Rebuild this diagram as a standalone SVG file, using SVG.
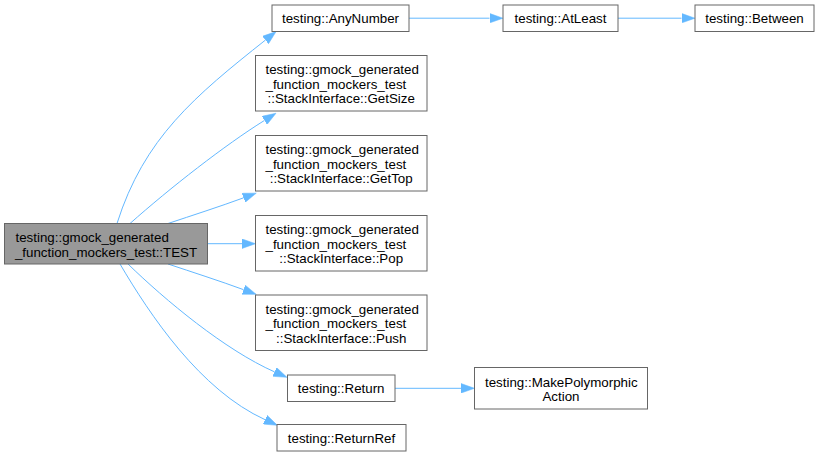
<svg xmlns="http://www.w3.org/2000/svg" width="820" height="456" viewBox="0 0 820 456">
<defs>
<style>
.node rect{fill:#ffffff;stroke:#666666;stroke-width:1}
.node.root rect{fill:#999999}
.node text{font-family:"Liberation Sans",Arial,Helvetica,sans-serif;font-size:13.33px;fill:#000000}
.c{text-anchor:middle}
.l{text-anchor:start}
.edges path{fill:none;stroke:#63b8ff;stroke-width:1}
</style>
<marker id="arr" markerUnits="userSpaceOnUse" markerWidth="14" markerHeight="10" refX="0" refY="4.8" orient="auto" viewBox="0 0 14 9.6">
<path d="M0,0 L13.5,4.8 L0,9.6 z" fill="#63b8ff" stroke="#63b8ff" stroke-width="0.5"/>
</marker>
</defs>
<rect width="820" height="456" fill="#ffffff"/>
<g class="edges">
<path d="M409,18.2 L489.5,18.2" marker-end="url(#arr)"/>
<path d="M618,18.2 L681.5,18.2" marker-end="url(#arr)"/>
<path d="M395,388.3 L461,388.3" marker-end="url(#arr)"/>
<path d="M208,243.7 L242,243.7" marker-end="url(#arr)"/>
<path d="M117,223.5 C144,138 195,96 265.5,40" marker-end="url(#arr)"/>
<path d="M130,223.5 C170,188 225,145 264.5,120.4" marker-end="url(#arr)"/>
<path d="M168,223.5 C192,215.5 220,206.5 243.6,197.8" marker-end="url(#arr)"/>
<path d="M168,264 C192,272 220,281 243.6,289.7" marker-end="url(#arr)"/>
<path d="M128,264 C165,300 225,350 274.6,371.9" marker-end="url(#arr)"/>
<path d="M120,264 C150,315 200,390 265.1,419.7" marker-end="url(#arr)"/>
</g>
<g id="node-test" class="node root">
<rect x="4.5" y="223.5" width="203" height="40.5"/>
<text class="l" x="15.5" y="242.3">testing::gmock_generated</text>
<text class="c" x="106" y="256.8">_function_mockers_test::TEST</text>
</g>
<g id="node-anynumber" class="node">
<rect x="272" y="5" width="137" height="26.5"/>
<text class="c" x="340.5" y="23.2">testing::AnyNumber</text>
</g>
<g id="node-atleast" class="node">
<rect x="503" y="5" width="115" height="26.5"/>
<text class="c" x="560.5" y="23.2">testing::AtLeast</text>
</g>
<g id="node-between" class="node">
<rect x="695" y="5" width="119" height="26.5"/>
<text class="c" x="754.5" y="23.2">testing::Between</text>
</g>
<g id="node-getsize" class="node">
<rect x="255.5" y="55.5" width="171.5" height="55.5"/>
<text class="l" x="265.5" y="74">testing::gmock_generated</text>
<text class="l" x="265.5" y="88.7">_function_mockers_test</text>
<text class="c" x="341.2" y="103.4">::StackInterface::GetSize</text>
</g>
<g id="node-gettop" class="node">
<rect x="255.5" y="135.5" width="171.5" height="55.5"/>
<text class="l" x="265.5" y="154">testing::gmock_generated</text>
<text class="l" x="265.5" y="168.7">_function_mockers_test</text>
<text class="c" x="341.2" y="183.4">::StackInterface::GetTop</text>
</g>
<g id="node-pop" class="node">
<rect x="255.5" y="215.5" width="171.5" height="55.5"/>
<text class="l" x="265.5" y="234">testing::gmock_generated</text>
<text class="l" x="265.5" y="248.7">_function_mockers_test</text>
<text class="c" x="341.2" y="263.4">::StackInterface::Pop</text>
</g>
<g id="node-push" class="node">
<rect x="255.5" y="295" width="171.5" height="55.5"/>
<text class="l" x="265.5" y="313.5">testing::gmock_generated</text>
<text class="l" x="265.5" y="328.2">_function_mockers_test</text>
<text class="c" x="341.2" y="342.9">::StackInterface::Push</text>
</g>
<g id="node-return" class="node">
<rect x="287.5" y="375" width="107.5" height="26.5"/>
<text class="c" x="341.2" y="393.4">testing::Return</text>
</g>
<g id="node-makepolymorphicaction" class="node">
<rect x="474.5" y="367.5" width="173" height="41.5"/>
<text class="l" x="485" y="386.7">testing::MakePolymorphic</text>
<text class="c" x="561" y="400.9">Action</text>
</g>
<g id="node-returnref" class="node">
<rect x="277" y="424.5" width="129" height="26.5"/>
<text class="c" x="341.5" y="442.9">testing::ReturnRef</text>
</g>
</svg>
